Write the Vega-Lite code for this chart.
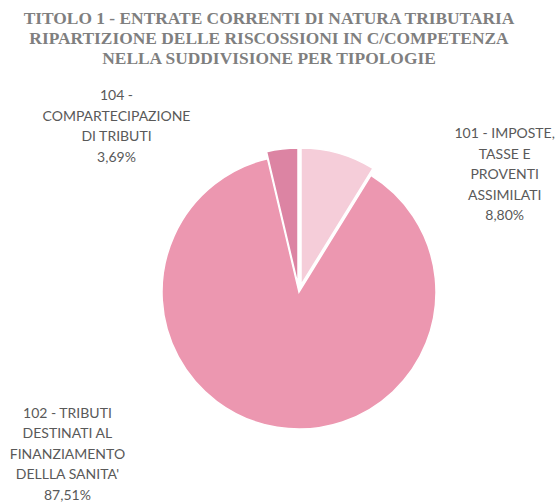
{
  "$schema": "https://vega.github.io/schema/vega-lite/v6.json",
  "width": 522,
  "height": 420,
  "autosize": "none",
  "padding": {"left": 38, "top": 82, "right": 0, "bottom": 0},
  "background": "white",
  "title": {
    "text": ["TITOLO 1 - ENTRATE CORRENTI DI NATURA TRIBUTARIA", "RIPARTIZIONE DELLE RISCOSSIONI IN C/COMPETENZA", "NELLA SUDDIVISIONE PER TIPOLOGIE"],
    "font": "Liberation Serif",
    "fontSize": 17.4,
    "fontWeight": "bold",
    "color": "#7f7f7f",
    "lineHeight": 20,
    "anchor": "middle",
    "frame": "group",
    "baseline": "bottom",
    "offset": -3,
    "dx": -30
  },
  "data": {
    "values": [
      {"code": "101", "value": 8.80, "label": "101 - IMPOSTE,\nTASSE E\nPROVENTI\nASSIMILATI\n8,80%"},
      {"code": "102", "value": 87.51, "label": "102 - TRIBUTI\nDESTINATI AL\nFINANZIAMENTO\nDELLLA SANITA'\n87,51%"},
      {"code": "104", "value": 3.69, "label": "104 -\nCOMPARTECIPAZIONE\nDI TRIBUTI\n3,69%"}
    ]
  },
  "encoding": {
    "theta": {"field": "value", "type": "quantitative", "stack": true},
    "order": {"field": "code", "type": "ordinal"},
    "color": {"field": "code", "type": "nominal", "scale": {"domain": ["101", "102", "104"], "range": ["#f5cdd9", "#ec97b0", "#dc84a3"]}, "legend": null}
  },
  "layer": [
    {
      "mark": {"type": "arc", "outerRadius": 137, "stroke": "white", "strokeWidth": 1.5},
      "encoding": {"opacity": {"condition": {"test": "datum.code === '102'", "value": 1}, "value": 0}}
    },
    {
      "mark": {"type": "arc", "outerRadius": 137, "stroke": "white", "strokeWidth": 1.5, "xOffset": 2, "yOffset": -7},
      "encoding": {"opacity": {"condition": {"test": "datum.code === '101'", "value": 1}, "value": 0}}
    },
    {
      "mark": {"type": "arc", "outerRadius": 137, "stroke": "white", "strokeWidth": 1.5, "xOffset": -1, "yOffset": -7},
      "encoding": {"opacity": {"condition": {"test": "datum.code === '104'", "value": 1}, "value": 0}}
    },
    {
      "mark": {"type": "text", "radius": 160, "dx": 162, "dy": -4, "lineBreak": "\n", "font": "Lato", "fontSize": 14, "lineHeight": 20.5, "align": "center", "baseline": "middle"},
      "encoding": {
        "text": {"condition": {"test": "datum.code === '101'", "field": "label"}, "value": ""},
        "color": {"value": "#595959"}
      }
    },
    {
      "mark": {"type": "text", "radius": 160, "dx": -206, "dy": -36, "lineBreak": "\n", "font": "Lato", "fontSize": 14, "lineHeight": 20.5, "align": "center", "baseline": "middle"},
      "encoding": {
        "text": {"condition": {"test": "datum.code === '102'", "field": "label"}, "value": ""},
        "color": {"value": "#595959"}
      }
    },
    {
      "mark": {"type": "text", "radius": 160, "dx": -164, "dy": -37, "lineBreak": "\n", "font": "Lato", "fontSize": 14, "lineHeight": 20.5, "align": "center", "baseline": "middle"},
      "encoding": {
        "text": {"condition": {"test": "datum.code === '104'", "field": "label"}, "value": ""},
        "color": {"value": "#595959"}
      }
    }
  ]
}
